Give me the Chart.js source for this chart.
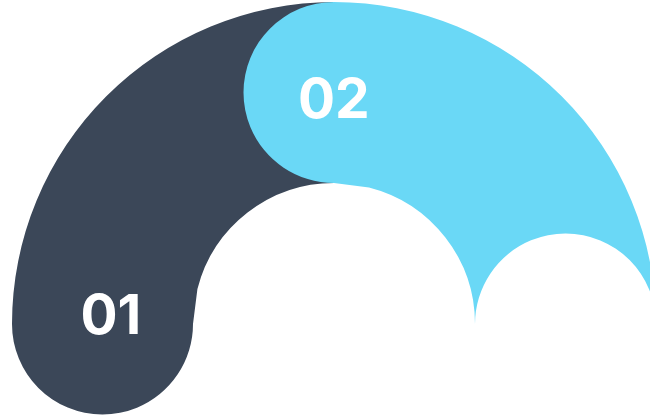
<!DOCTYPE html>
<html>
<head>
<meta charset="utf-8">
<script src="https://cdn.jsdelivr.net/npm/chart.js@4.4.1/dist/chart.umd.min.js"></script>
<style>
  html, body { margin: 0; padding: 0; background: #ffffff; }
  #wrap { position: relative; width: 650px; height: 418px; }
</style>
</head>
<body>
<div id="wrap"><canvas id="chart"></canvas></div>
<script>
// ---- data ----
const categories = ['01', '02'];
const values = [50, 50];                 // share of the half ring
const colors = ['#3b4758', '#6ad8f6'];
const maskColor = '#ffffff';

// ---- geometry / style ----
const OUTER = 322, INNER = 141;
const THICK = OUTER - INNER;
const CAP = THICK / 2;                   // round cap radius
const MID = INNER + CAP;
const HALF = values.reduce((a, b) => a + b, 0);   // half ring
const FULL = HALF * 2;
const capRad = CAP / MID;                // angle used by the rounded corner
const capUnits = capRad / (2 * Math.PI) * FULL;
const capDeg = capRad * 180 / Math.PI;

// layers from bottom to top: series 0, series 1, closing mask
const layers = [
  { before: 0, len: values[0] + capUnits, color: colors[0] },
  { before: values[0], len: values[1] + capUnits, color: colors[1] },
  { before: values[0] + values[1], len: HALF / 2, color: maskColor }
];

// datasets are drawn last-to-first, so the top layer goes first
const order = layers.slice().reverse();
const weights = [4, 2, 1];
const W = weights.reduce((a, b) => a + b, 0);

const datasets = order.map((ly, i) => {
  const O = weights.slice(0, i).reduce((a, b) => a + b, 0);
  const L = THICK / weights[i];
  const R = OUTER + L * O;
  const cut = 1 - W * L / R;
  return {
    data: [ly.before, ly.len, FULL - ly.before - ly.len],
    backgroundColor: ['rgba(0,0,0,0)', ly.color, 'rgba(0,0,0,0)'],
    borderWidth: 0,
    hoverOffset: 0,
    offset: 0,
    spacing: 0,
    weight: weights[i],
    radius: R,
    cutout: (cut * 100) + '%',
    rotation: 270 - capDeg,
    circumference: 360,
    clip: false,
    borderRadius: (c) => c.dataIndex === 1
      ? { outerStart: CAP, innerStart: CAP, outerEnd: 0, innerEnd: 0 }
      : 0
  };
});

// offset of each label's centre from its round cap centre
const labelShift = [[8, -10.5], [-0.5, 5]];

const capLabels = {
  id: 'capLabels',
  afterDatasetsDraw(chart) {
    const ctx = chart.ctx;
    ctx.save();
    ctx.fillStyle = '#ffffff';
    ctx.font = '700 55px Inter';
    ctx.textAlign = 'left';
    ctx.textBaseline = 'alphabetic';
    categories.forEach((label, k) => {
      const dsIndex = layers.length - 1 - k;
      const arc = chart.getDatasetMeta(dsIndex).data[1];
      const a = arc.startAngle + capRad;
      const r = (arc.innerRadius + arc.outerRadius) / 2;
      const cx = arc.x + Math.cos(a) * r + labelShift[k][0];
      const cy = arc.y + Math.sin(a) * r + labelShift[k][1];
      const m = ctx.measureText(label);
      const x = cx - (m.actualBoundingBoxRight - m.actualBoundingBoxLeft) / 2;
      const y = cy + (m.actualBoundingBoxAscent - m.actualBoundingBoxDescent) / 2;
      ctx.fillText(label, x, y);
    });
    ctx.restore();
  }
};

new Chart(document.getElementById('chart'), {
  type: 'doughnut',
  data: { labels: ['', '', ''], datasets },
  options: {
    responsive: true,
    maintainAspectRatio: false,
    animation: false,
    events: [],
    layout: { padding: { left: 18, right: 0, top: 230, bottom: 0 } },
    plugins: { legend: { display: false }, tooltip: { enabled: false } }
  },
  plugins: [capLabels]
});
</script>
</body>
</html>
